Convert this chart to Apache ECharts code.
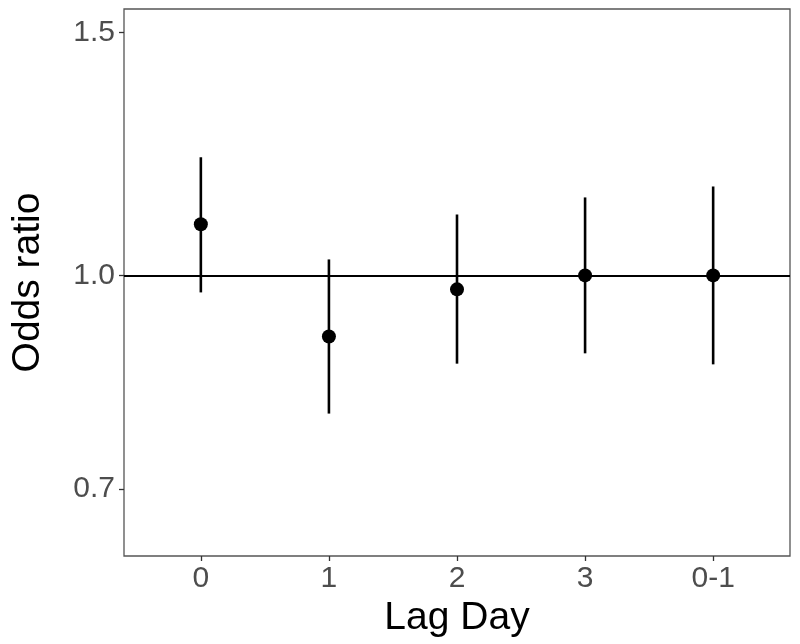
<!DOCTYPE html>
<html>
<head>
<meta charset="utf-8">
<script src="https://cdn.jsdelivr.net/npm/echarts@6/dist/echarts.min.js"></script>
<style>html,body{margin:0;padding:0;background:#fff;}#c{width:800px;height:644px;}</style>
</head>
<body>
<div id="c"></div>
<script>
var categories = ['0', '1', '2', '3', '0-1'];
var oddsRatio = [1.089, 0.903, 0.977, 1.000, 1.000];
var lower = [0.972, 0.794, 0.863, 0.878, 0.862];
var upper = [1.218, 1.027, 1.107, 1.139, 1.160];
var yTicks = [0.7, 1.0, 1.5];
var yRange = [0.626, 1.56];

var chart = echarts.init(document.getElementById('c'));
var ln = Math.log;
var pts = oddsRatio.map(function (v, i) { return [i, ln(v)]; });
var bars = lower.map(function (l, i) { return [i, ln(l), ln(upper[i])]; });
var font = 'Liberation Sans, Arial, sans-serif';
var tickPos = yTicks.map(function (v) { return ln(v); });

chart.setOption({
  animation: false,
  grid: { left: 124, right: 10, top: 9, bottom: 88, show: true, borderColor: '#555', borderWidth: 1.3,
    containLabel: false, outerBoundsMode: 'none' },
  xAxis: {
    type: 'value', min: -0.6, max: 4.6,
    name: 'Lag Day', nameLocation: 'middle', nameGap: 39,
    nameTextStyle: { fontSize: 39, color: '#000', fontFamily: font },
    axisLine: { show: false, onZero: false },
    splitLine: { show: false },
    axisTick: { show: true, length: 5, lineStyle: { color: '#333', width: 1.3 }, customValues: [0, 1, 2, 3, 4] },
    axisLabel: { fontSize: 30, color: '#4d4d4d', fontFamily: font, margin: 8,
      customValues: [0, 1, 2, 3, 4],
      formatter: function (v) { return categories[Math.round(v)]; } }
  },
  yAxis: {
    type: 'value', min: ln(yRange[0]), max: ln(yRange[1]),
    name: 'Odds ratio', nameLocation: 'middle', nameGap: 76, nameRotate: 90,
    nameTextStyle: { fontSize: 39, color: '#000', fontFamily: font },
    axisLine: { show: false, onZero: false },
    splitLine: { show: false },
    axisTick: { show: true, length: 5, lineStyle: { color: '#333', width: 1.3 }, customValues: tickPos },
    axisLabel: { fontSize: 30, color: '#4d4d4d', fontFamily: font, margin: 9,
      customValues: tickPos,
      formatter: function (v) { return Math.exp(v).toFixed(1); } }
  },
  series: [
    {
      type: 'custom',
      data: bars,
      encode: { x: 0, y: [1, 2] },
      renderItem: function (params, api) {
        var a = api.coord([api.value(0), api.value(1)]);
        var b = api.coord([api.value(0), api.value(2)]);
        return { type: 'line', shape: { x1: a[0], y1: a[1], x2: b[0], y2: b[1] },
          style: { stroke: '#000', lineWidth: 2.6 } };
      },
      z: 3
    },
    {
      type: 'scatter',
      data: pts,
      symbolSize: 14,
      itemStyle: { color: '#000', opacity: 1 },
      z: 4,
      markLine: {
        silent: true, symbol: 'none', label: { show: false },
        lineStyle: { color: '#000', width: 1.8, type: 'solid' },
        data: [{ yAxis: 0 }]
      }
    }
  ]
});
</script>
</body>
</html>
